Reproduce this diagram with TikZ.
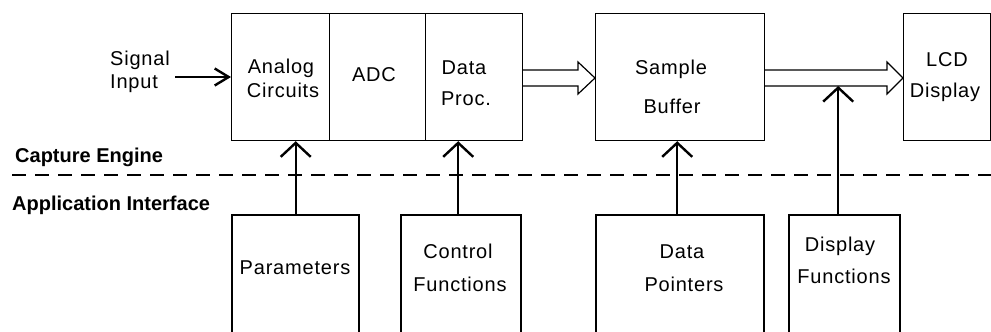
\documentclass[tikz,border=0pt]{standalone}
\usepackage{fontspec}
\setmainfont{Liberation Sans}
\newfontfamily\spfont{Liberation Sans}[LetterSpace=4]
\usetikzlibrary{arrows.meta,calc}
\begin{document}
\begin{tikzpicture}[x=1pt,y=-1pt,
  thinbox/.style={draw, line width=1.2pt, inner sep=0, anchor=north west},
  thickbox/.style={draw, line width=2.4pt, inner sep=0, anchor=north west},
  txt/.style={font=\spfont\fontsize{20}{24}\selectfont, anchor=base, inner sep=0},
  ltxt/.style={txt, anchor=base west},
  btxt/.style={font=\bfseries\fontsize{20}{24}\selectfont, anchor=base west, inner sep=0},
  uparrow/.style={line width=2.4pt, -{Straight Barb[length=14pt,width=30pt]}},
  sigarrow/.style={line width=2.4pt, -{Straight Barb[length=14pt,width=17pt]}},
  hollow/.style={line width=1.2pt, line join=miter},
  divider/.style={dashed, dash pattern=on 14pt off 9pt, line width=1.2pt}
]
\useasboundingbox (0,0) rectangle (991,332);
\clip (0,0) rectangle (991,332);

% capture engine boxes
\node[thinbox, minimum width=98pt, minimum height=127pt] (analog) at (231,13) {};
\node[thinbox, minimum width=96pt, minimum height=127pt] (adc) at (329,13) {};
\node[thinbox, minimum width=97pt, minimum height=127pt] (proc) at (425,13) {};
\node[thinbox, minimum width=169pt, minimum height=127pt] (buffer) at (595,13) {};
\node[thinbox, minimum width=87pt, minimum height=127pt] (lcd) at (903,13) {};

% application interface boxes
\node[thickbox, minimum width=127pt, minimum height=140pt] (params) at (231,214) {};
\node[thickbox, minimum width=120pt, minimum height=140pt] (ctrl) at (400,214) {};
\node[thickbox, minimum width=168pt, minimum height=140pt] (ptrs) at (595,214) {};
\node[thickbox, minimum width=111pt, minimum height=140pt] (dispf) at (788,214) {};

% texts
\node[ltxt] (tsig) at (110,65) {Signal};
\node[ltxt] (tinp) at (110,88) {Input};
\node[txt] (tana) at (281,73) {Analog};
\node[txt] (tcir) at (283,97) {Circuits};
\node[txt] (tadc) at (374,81) {ADC};
\node[txt] (tdat) at (464,74) {Data};
\node[txt] (tpro) at (466,105) {Proc.};
\node[txt] (tsam) at (671,74) {Sample};
\node[txt] (tbuf) at (672,113) {Buffer};
\node[txt] (tlcd) at (947,66) {LCD};
\node[txt] (tdis) at (945,97) {Display};

\node[txt] (tpar) at (295,274) {Parameters};
\node[txt] (tcon) at (458,258) {Control};
\node[txt] (tfun) at (460,291) {Functions};
\node[txt] (tdd) at (682,258) {Data};
\node[txt] (tpoi) at (684,291) {Pointers};
\node[txt] (tdsp) at (840,251) {Display};
\node[txt] (tdfn) at (844,283) {Functions};

\node[btxt] (cap) at (15,162) {Capture Engine};
\node[btxt] (app) at (12,210) {Application Interface};

% dashed divider
\coordinate (dl) at (12,175);
\coordinate (dr) at (991,175);
\draw[divider] (dl) -- (dr);

% signal input
\coordinate (sig) at (175,77);
\draw[sigarrow] (sig) -- (sig -| analog.west);

% hollow data arrows
\draw[hollow] (proc.east |- 0,70) -- (578,70) -- (578,62) -- (buffer.west |- 0,78)
  -- (578,94) -- (578,86) -- (proc.east |- 0,86);
\draw[hollow] (buffer.east |- 0,70) -- (887,70) -- (887,62) -- (lcd.west |- 0,78)
  -- (887,94) -- (887,86) -- (buffer.east |- 0,86);

% vertical arrows
\draw[uparrow] (params.north) -- (params.north |- analog.south);
\draw[uparrow] ([xshift=-3pt]ctrl.north) -- ([xshift=-3pt]ctrl.north |- proc.south);
\draw[uparrow] ([xshift=-3pt]ptrs.north) -- ([xshift=-3pt]ptrs.north |- buffer.south);
\coordinate (dtop) at ([xshift=-6.5pt]dispf.north);
\coordinate (dtip) at (dtop |- 0,86);
\draw[uparrow] (dtop) -- (dtip);
\end{tikzpicture}
\end{document}
